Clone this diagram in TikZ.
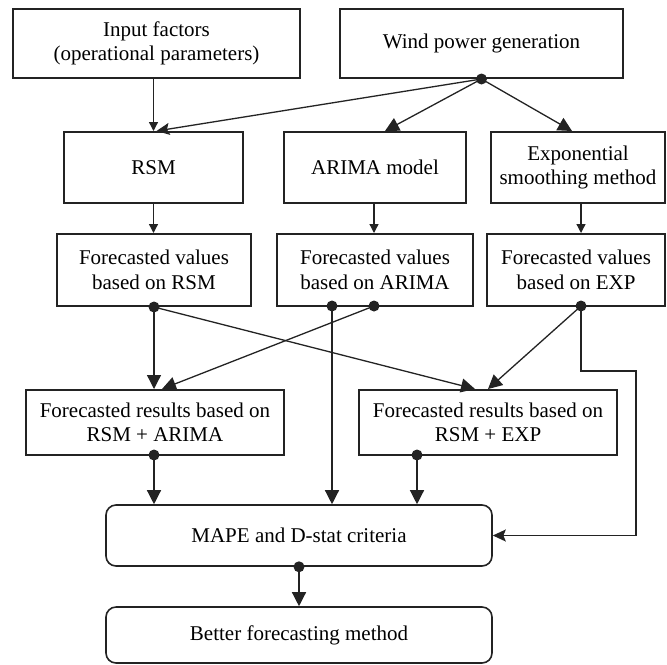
\documentclass[tikz,border=0pt]{standalone}
\usepackage{fontspec}
\setmainfont{Liberation Serif}
\usetikzlibrary{arrows.meta}
\definecolor{lineGray}{RGB}{35,35,35}

\begin{document}
\begin{tikzpicture}[x=0.5pt, y=-0.5pt,
    box/.style={draw=lineGray, line width=1pt, align=center, inner sep=0pt,
      font=\fontsize{10.5}{12.2}\selectfont},
    rbox/.style={box, line width=0.8pt, rounded corners=5pt},
    dot/.style={circle, fill=lineGray, inner sep=0pt, minimum size=5.5pt},
    link/.style={draw=lineGray, line width=0.65pt},
    bigarr/.style={link, -{Triangle[length=7pt,width=7pt]}},
    smallarr/.style={link, -{Triangle[length=4.5pt,width=4.5pt]}},
    midarr/.style={link, -{Stealth[length=6.5pt,width=6pt,inset=1.2pt]}}]
  \useasboundingbox (0,0) rectangle (667,664);

  % top row
  \node[box, minimum width=143.5pt, minimum height=34.5pt] (inp) at (156.5,43.5)
    {Input factors\\(operational parameters)};
  \node[box, minimum width=141.5pt, minimum height=34.5pt] (wind) at (481.5,43.5)
    {Wind power generation};

  % models
  \node[box, minimum width=89.5pt, minimum height=35.5pt] (rsm) at (153.5,167.5) {RSM};
  \node[box, minimum width=91pt, minimum height=35.5pt] (arima) at (375,167.5) {ARIMA model};
  \node[box, minimum width=87pt, minimum height=35.5pt] (expo) at (578,167.5)
    {Exponential\\smoothing method};

  % forecasted values
  \node[box, minimum width=97pt, minimum height=36pt] (fvr) at (154,270)
    {Forecasted values\\based on RSM};
  \node[box, minimum width=98pt, minimum height=36pt] (fva) at (375,270)
    {Forecasted values\\based on ARIMA};
  \node[box, minimum width=89pt, minimum height=36pt] (fve) at (576,270)
    {Forecasted values\\based on EXP};

  % hybrid results
  \node[box, minimum width=129pt, minimum height=32.5pt] (fra) at (155,422.5)
    {Forecasted results based on\\RSM + ARIMA};
  \node[box, minimum width=129pt, minimum height=32.5pt] (fre) at (488,422.5)
    {Forecasted results based on\\RSM + EXP};

  % criteria and outcome
  \node[rbox, minimum width=193pt, minimum height=30.5pt] (mape) at (299,535.5)
    {MAPE and D-stat criteria};
  \node[rbox, minimum width=193pt, minimum height=28pt] (better) at (299,635)
    {Better forecasting method};

  % junction dots
  \coordinate (dw) at (wind.south);
  \coordinate (dr) at (fvr.south);
  \coordinate (da1) at (332,306);
  \coordinate (da2) at (374,306);
  \coordinate (de) at (581,306);
  \coordinate (dra) at (154,455);
  \coordinate (dre) at (417,455);
  \coordinate (dm) at (mape.south);
  \coordinate (fb) at (636,371);

  % input and wind power links
  \draw[smallarr] (inp.south -| rsm) -- (rsm.north);
  \draw[midarr] (dw) -- ([xshift=1.5pt]rsm.north);
  \draw[bigarr] (dw) -- ([xshift=5pt]arima.north);
  \draw[bigarr] (dw) -- ([xshift=-3pt]expo.north);

  % models to forecasted values
  \draw[smallarr] (rsm.south) -- (rsm.south |- fvr.north);
  \draw[smallarr] (da2 |- arima.south) -- (da2 |- fva.north);
  \draw[smallarr] (de |- expo.south) -- (de |- fve.north);

  % forecasted values to hybrids
  \draw[bigarr] (dr) -- (dr |- fra.north);
  \draw[bigarr] (da2) -- ([xshift=3.5pt]fra.north);
  \draw[bigarr] (dr) -- ([xshift=-6.5pt]fre.north);
  \draw[bigarr] (de) -- (fre.north);
  \draw[midarr] (de) |- (fb) |- (mape.east);

  % into the criteria
  \draw[bigarr] (da1) -- (da1 |- mape.north);
  \draw[bigarr] (dra) -- (dra |- mape.north);
  \draw[bigarr] (dre) -- (dre |- mape.north);
  \draw[bigarr] (dm) -- (better.north);

  \foreach \d in {dw,dr,da1,da2,de,dra,dre,dm}
    \node[dot] at (\d) {};
\end{tikzpicture}
\end{document}
